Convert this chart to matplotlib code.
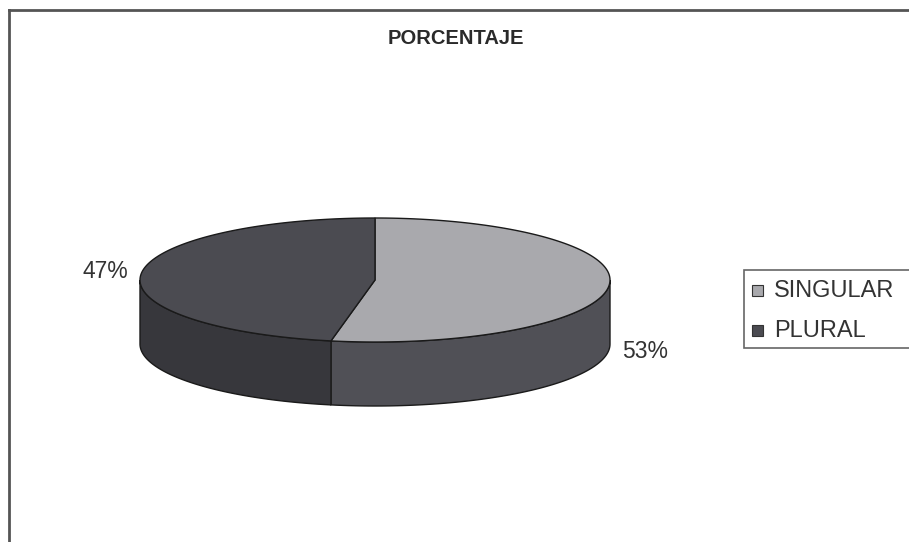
import numpy as np
import matplotlib.pyplot as plt
from matplotlib.patches import Polygon, Rectangle

# Datos del gráfico
categorias = ["SINGULAR", "PLURAL"]
valores = [53, 47]
colores_tapa = ["#a9a9ad", "#4b4b51"]
colores_lado = ["#505056", "#37373c"]

plt.rcParams['font.family'] = ['Liberation Sans', 'DejaVu Sans']

W, H = 909, 542
fig = plt.figure(figsize=(W / 100, H / 100), dpi=100)
ax = fig.add_axes([0, 0, 1, 1])
ax.set_xlim(0, W)
ax.set_ylim(H, 0)
ax.axis("off")

# Marco del área del gráfico (cortado a la derecha y abajo)
ax.plot([9, 9], [H, 10], color="#555555", lw=2)
ax.plot([9, W], [10, 10], color="#555555", lw=2)

ax.text(456, 38, "PORCENTAJE", ha="center", va="center",
        fontsize=14.5, fontweight="bold", color="#2a2a2a")

# Pastel 3D
cx, cy, rx, ry, prof = 375, 280, 235, 62, 64


def punto(theta, dy=0):
    t = np.radians(theta)
    return cx + rx * np.sin(t), cy - ry * np.cos(t) + dy


total = sum(valores)
angulos = np.concatenate([[0], np.cumsum(valores) / total * 360])

# Paredes laterales (solo la mitad frontal)
for i in range(len(valores)):
    a, b = max(angulos[i], 90), min(angulos[i + 1], 270)
    if a >= b:
        continue
    th = np.linspace(a, b, 100)
    arriba = [punto(t) for t in th]
    abajo = [punto(t, prof) for t in th[::-1]]
    ax.add_patch(Polygon(arriba + abajo, closed=True, facecolor=colores_lado[i],
                         edgecolor="#1a1a1a", lw=1))

# Tapa superior
for i in range(len(valores)):
    th = np.linspace(angulos[i], angulos[i + 1], 200)
    pts = [(cx, cy)] + [punto(t) for t in th]
    ax.add_patch(Polygon(pts, closed=True, facecolor=colores_tapa[i],
                         edgecolor="#1a1a1a", lw=1))

# Etiquetas de porcentaje
ax.text(622, 351, f"{valores[0]}%", ha="left", va="center", fontsize=16.5, color="#333333")
ax.text(128, 272, f"{valores[1]}%", ha="right", va="center", fontsize=16.5, color="#333333")

# Leyenda
ax.add_patch(Rectangle((744, 270), 200, 78, facecolor="white",
                       edgecolor="#666666", lw=1.2))
for i, nombre in enumerate(categorias):
    y = 291 + i * 40
    ax.add_patch(Rectangle((752, y - 6), 11, 11, facecolor=colores_tapa[i],
                           edgecolor="#333333", lw=0.8))
    ax.text(774, y, nombre, ha="left", va="center", fontsize=17, color="#333333")

fig.savefig("out.png", dpi=100)
